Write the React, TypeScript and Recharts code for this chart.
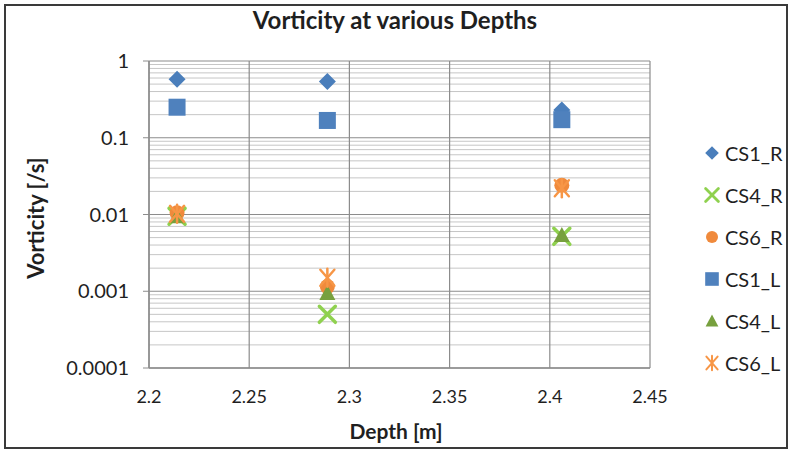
import React from "react";
import {
  ScatterChart,
  Scatter,
  XAxis,
  YAxis,
  CartesianGrid,
} from "recharts";

// depth of each measurement station [m]
const depths = [2.214, 2.289, 2.406];

// vorticity [/s] per cross section, right (R) and left (L)
const cs1R = [0.58, 0.54, 0.23];
const cs4R = [0.0095, 0.0005, 0.0052];
const cs6R = [0.0105, 0.00115, 0.024];
const cs1L = [0.25, 0.168, 0.172];
const cs4L = [0.0095, 0.00095, 0.0054];
const cs6L = [0.0102, 0.0015, 0.022];

const xTicks = [2.2, 2.25, 2.3, 2.35, 2.4, 2.45];
const yTicks = [0.0001, 0.001, 0.01, 0.1, 1];
// minor log grid: 2..9 in every decade
const minorSteps = [2, 3, 4, 5, 6, 7, 8, 9];
const yMinor = yTicks.slice(0, -1).flatMap((d) => minorSteps.map((m) => d * m));

const FONT = "Lato, 'Open Sans', sans-serif";
const TEXT = "#1f1f1f";

const toPoints = (vals: number[]) =>
  depths.map((d, i) => ({ depth: d, value: vals[i] }));

type ShapeProps = { cx?: number; cy?: number };

const Diamond = ({ cx = 0, cy = 0 }: ShapeProps) => (
  <path
    d={`M${cx} ${cy - 8.5}L${cx + 8.5} ${cy}L${cx} ${cy + 8.5}L${cx - 8.5} ${cy}Z`}
    fill="#4a7ebb"
  />
);

const Cross = ({ cx = 0, cy = 0 }: ShapeProps) => (
  <g stroke="#8fd14f" strokeWidth={3.5} strokeLinecap="round">
    <line x1={cx - 8} y1={cy - 8} x2={cx + 8} y2={cy + 8} />
    <line x1={cx - 8} y1={cy + 8} x2={cx + 8} y2={cy - 8} />
  </g>
);

const Dot = ({ cx = 0, cy = 0 }: ShapeProps) => (
  <circle cx={cx} cy={cy} r={7.5} fill="#f08a3c" />
);

const Square = ({ cx = 0, cy = 0 }: ShapeProps) => (
  <rect x={cx - 8.5} y={cy - 8.5} width={17} height={17} fill="#4f81bd" />
);

const Triangle = ({ cx = 0, cy = 0 }: ShapeProps) => (
  <path
    d={`M${cx} ${cy - 8}L${cx + 8} ${cy + 7}L${cx - 8} ${cy + 7}Z`}
    fill="#77a03e"
  />
);

const Star = ({ cx = 0, cy = 0 }: ShapeProps) => (
  <g stroke="#f79646" strokeWidth={2.5} strokeLinecap="round">
    <line x1={cx - 7} y1={cy - 8} x2={cx + 7} y2={cy + 8} />
    <line x1={cx - 7} y1={cy + 8} x2={cx + 7} y2={cy - 8} />
    <line x1={cx} y1={cy - 9} x2={cx} y2={cy + 9} />
  </g>
);

const series = [
  { name: "CS1_R", values: cs1R, shape: Diamond },
  { name: "CS4_R", values: cs4R, shape: Cross },
  { name: "CS6_R", values: cs6R, shape: Dot },
  { name: "CS1_L", values: cs1L, shape: Square },
  { name: "CS4_L", values: cs4L, shape: Triangle },
  { name: "CS6_L", values: cs6L, shape: Star },
];

const LegendBox = () => (
  <div
    style={{
      position: "absolute",
      left: 702,
      top: 132,
      fontFamily: FONT,
      fontSize: 20,
      color: TEXT,
    }}
  >
    {series.map((s) => {
      const Shape = s.shape;
      return (
        <div
          key={s.name}
          style={{ display: "flex", alignItems: "center", height: 42 }}
        >
          <svg width={20} height={20} style={{ overflow: "visible" }}>
            <g transform="translate(10 10) scale(0.8)">
              <Shape cx={0} cy={0} />
            </g>
          </svg>
          <span style={{ marginLeft: 3 }}>{s.name}</span>
        </div>
      );
    })}
  </div>
);

export default function App() {
  return (
    <div
      style={{
        position: "absolute",
        left: 0,
        top: 0,
        width: 790,
        height: 449,
        background: "#fff",
      }}
    >
      <div
        style={{
          position: "absolute",
          left: 4,
          top: 4,
          width: 780,
          height: 441,
          border: "2px solid #3a3a3a",
        }}
      />
      <div
        style={{
          position: "absolute",
          left: 0,
          top: 5,
          width: 790,
          textAlign: "center",
          fontFamily: FONT,
          fontWeight: 700,
          fontSize: 24,
          color: TEXT,
        }}
      >
        Vorticity at various Depths
      </div>
      <div
        style={{
          position: "absolute",
          left: 35,
          top: 218,
          transform: "translate(-50%, -50%) rotate(-90deg)",
          whiteSpace: "nowrap",
          fontFamily: FONT,
          fontWeight: 700,
          fontSize: 22,
          color: TEXT,
        }}
      >
        Vorticity [/s]
      </div>
      <div
        style={{
          position: "absolute",
          left: 0,
          top: 418,
          width: 792,
          textAlign: "center",
          fontFamily: FONT,
          fontWeight: 700,
          fontSize: 21,
          color: TEXT,
        }}
      >
        Depth [m]
      </div>
      <ScatterChart
        width={790}
        height={449}
        margin={{ top: 61, right: 140, bottom: 0, left: 0 }}
        style={{ position: "absolute", left: 0, top: 0 }}
      >
        <CartesianGrid
          vertical={false}
          horizontalValues={yMinor}
          stroke="#c6c6c6"
          strokeWidth={1}
        />
        <CartesianGrid
          horizontalValues={yTicks}
          verticalValues={xTicks}
          stroke="#8c8c8c"
          strokeWidth={1.2}
        />
        <XAxis
          type="number"
          dataKey="depth"
          domain={[2.2, 2.45]}
          ticks={xTicks}
          interval={0}
          height={81}
          axisLine={{ stroke: "#8c8c8c", strokeWidth: 1.5 }}
          tickLine={false}
          tickMargin={16}
          tick={{ fill: TEXT, fontSize: 18, fontFamily: FONT }}
          allowDataOverflow
        />
        <YAxis
          type="number"
          dataKey="value"
          scale="log"
          domain={[0.0001, 1]}
          ticks={yTicks}
          interval={0}
          width={149}
          axisLine={{ stroke: "#8c8c8c", strokeWidth: 1.5 }}
          tickLine={{ stroke: "#8c8c8c" }}
          tickSize={6}
          tickMargin={14}
          tickFormatter={(v: number) => String(v)}
          tick={{ fill: TEXT, fontSize: 20, fontFamily: FONT }}
          allowDataOverflow
        />
        {series.map((s) => (
          <Scatter
            key={s.name}
            name={s.name}
            data={toPoints(s.values)}
            shape={s.shape}
            isAnimationActive={false}
          />
        ))}
      </ScatterChart>
      <LegendBox />
    </div>
  );
}
